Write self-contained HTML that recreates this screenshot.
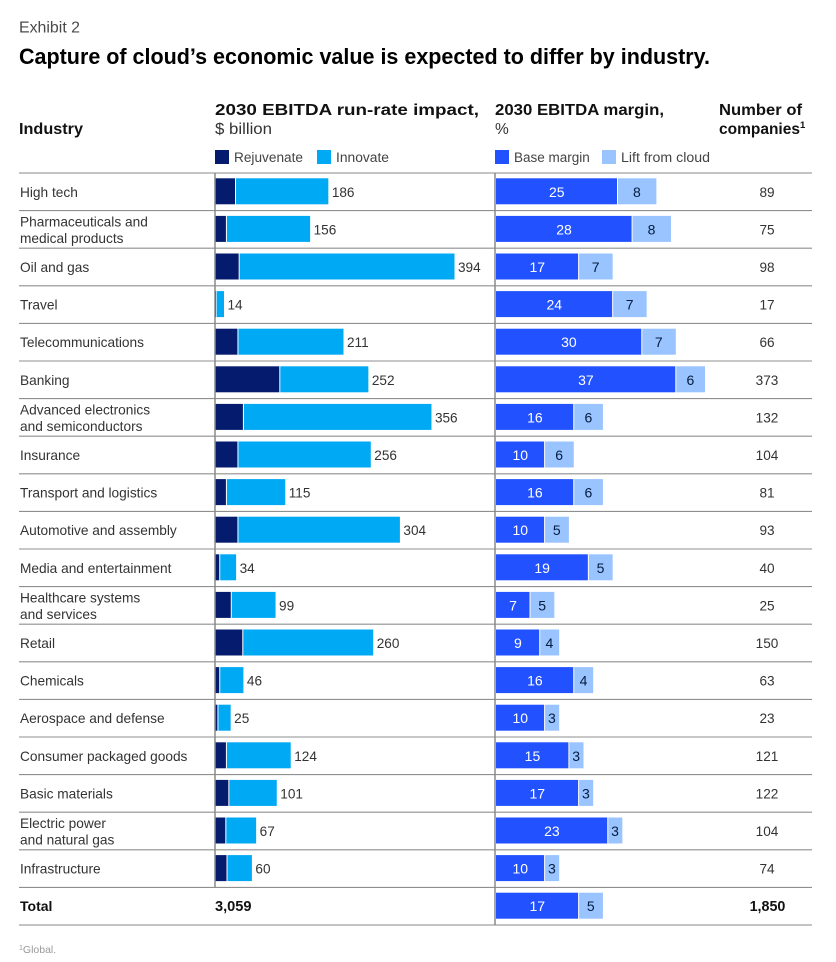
<!DOCTYPE html>
<html lang="en">
<head>
<meta charset="utf-8">
<title>Exhibit 2</title>
<style>
html,body{margin:0;padding:0;background:#fff;width:836px;height:962px;overflow:hidden}
svg{display:block;font-family:"Liberation Sans",sans-serif}
</style>
</head>
<body>
<svg id="chart" width="836" height="962" viewBox="0 0 836 962" xmlns="http://www.w3.org/2000/svg">
  <text x="19" y="32.5" font-size="15.5" fill="#4a4a4a" textLength="61" lengthAdjust="spacingAndGlyphs">Exhibit 2</text>
  <text x="19" y="64" font-size="22" font-weight="bold" fill="#000" textLength="691" lengthAdjust="spacingAndGlyphs">Capture of cloud’s economic value is expected to differ by industry.</text>

  <text x="19" y="134" font-size="15.5" font-weight="bold" fill="#111" textLength="64" lengthAdjust="spacingAndGlyphs">Industry</text>
  <text x="215" y="115" font-size="15.5" font-weight="bold" fill="#111" textLength="264" lengthAdjust="spacingAndGlyphs">2030 EBITDA run-rate impact,</text>
  <text x="215" y="134" font-size="15.5" fill="#333" textLength="57" lengthAdjust="spacingAndGlyphs">$ billion</text>
  <text x="495" y="115" font-size="15.5" font-weight="bold" fill="#111" textLength="169" lengthAdjust="spacingAndGlyphs">2030 EBITDA margin,</text>
  <text x="495" y="134" font-size="15.5" fill="#333">%</text>
  <text x="719" y="115" font-size="15.5" font-weight="bold" fill="#111" textLength="83" lengthAdjust="spacingAndGlyphs">Number of</text>
  <text x="719" y="134" font-size="15.5" font-weight="bold" fill="#111">companies<tspan font-size="9.5" dy="-6">1</tspan></text>

  <rect x="215" y="150" width="14" height="14" fill="#051c6e"/>
  <text x="234" y="162" font-size="13.5" fill="#444" textLength="69" lengthAdjust="spacingAndGlyphs">Rejuvenate</text>
  <rect x="317" y="150" width="14" height="14" fill="#00a9f4"/>
  <text x="336" y="162" font-size="13.5" fill="#444" textLength="53" lengthAdjust="spacingAndGlyphs">Innovate</text>
  <rect x="495" y="150" width="14" height="14" fill="#2251ff"/>
  <text x="514" y="162" font-size="13.5" fill="#444">Base margin</text>
  <rect x="602" y="150" width="14" height="14" fill="#99c4ff"/>
  <text x="621" y="162" font-size="13.5" fill="#444" textLength="89" lengthAdjust="spacingAndGlyphs">Lift from cloud</text>

  <g id="rows"></g>

  <text x="19" y="953" font-size="10.5" fill="#999"><tspan font-size="7" dy="-3">1</tspan><tspan dy="3">Global.</tspan></text>
</svg>
<script>
const categories = ["High tech","Pharmaceuticals and\nmedical products","Oil and gas","Travel","Telecommunications","Banking","Advanced electronics\nand semiconductors","Insurance","Transport and logistics","Automotive and assembly","Media and entertainment","Healthcare systems\nand services","Retail","Chemicals","Aerospace and defense","Consumer packaged goods","Basic materials","Electric power\nand natural gas","Infrastructure"];
const rejuvenate = [33,18,39,1,37,106,46,37,18,37,7,26,45,7,4,18,22,17,19];
const innovate = [153,138,355,13,174,146,310,219,97,267,27,73,215,39,21,106,79,50,41];
const baseMargin = [25,28,17,24,30,37,16,10,16,10,19,7,9,16,10,15,17,23,10];
const liftFromCloud = [8,8,7,7,7,6,6,6,6,5,5,5,4,4,3,3,3,3,3];
const companies = [89,75,98,17,66,373,132,104,81,93,40,25,150,63,23,121,122,104,74];
const totalLabel = ["Total"];
const totalImpact = ["3,059"];
const totalBaseMargin = [17];
const totalLift = [5];
const totalCompanies = ["1,850"];

const NS = "http://www.w3.org/2000/svg";
const root = document.getElementById("rows");
const top0 = 173, rowH = 37.6;
const xImpact = v => 215.5 + v * 0.6066;
const xMargin = v => 496 + v * 4.86;
const rowY = i => top0 + i * rowH;

function add(tag, attrs, text) {
  const el = document.createElementNS(NS, tag);
  for (const k in attrs) el.setAttribute(k, attrs[k]);
  if (text !== undefined) el.textContent = text;
  root.appendChild(el);
  return el;
}
function slug(s) { return s.replace(/\n/g, " ").toLowerCase().replace(/[^a-z0-9]+/g, "-"); }
function segment(name, x0, x1, y, fill) {
  const el = add("rect", {x: x0, y: y + 5.3, width: Math.max(x1 - x0, 0.5), height: 26, fill: fill});
  
  
}
function label(name, x, y, str, anchor, fill, size, weight) {
  const el = add("text", {x: x, y: y, "text-anchor": anchor, fill: fill, "font-size": size, "font-weight": weight}, str);
  
  
}
function marginBars(key, i, base, lift) {
  const y = rowY(i), mid = y + 18.8;
  segment("base-margin-bar-" + key, xMargin(0), xMargin(base) - 0.5, y, "#2251ff");
  segment("lift-bar-" + key, xMargin(base) + 0.5, xMargin(base + lift), y, "#99c4ff");
  label("base-margin-value-" + key, (xMargin(0) + xMargin(base)) / 2, mid + 5, String(base), "middle", "#fff", 14, "normal");
  label("lift-value-" + key, (xMargin(base) + xMargin(base + lift)) / 2, mid + 5, String(lift), "middle", "#051c3f", 14, "normal");
}

for (let i = 0; i <= categories.length + 1; i++) {
  const edge = i === 0 || i === categories.length + 1;
  const line = add("line", {x1: 19, x2: 812, y1: rowY(i), y2: rowY(i), stroke: edge ? "#b0b0b0" : "#8f8f8f", "stroke-width": edge ? 1.6 : 1.1});
  
  
}

categories.forEach((cat, i) => {
  const key = slug(cat), y = rowY(i), mid = y + 18.8;
  const lines = cat.split("\n");
  lines.forEach((t, j) => {
    const ly = lines.length === 1 ? mid + 5 : mid - 3 + j * 16.4;
    label("industry-label-" + key + "-" + (j + 1), 20, ly, t, "start", "#333", 13.7, "normal");
  });
  const r = rejuvenate[i], n = innovate[i], sum = r + n;
  segment("rejuvenate-bar-" + key, xImpact(0), xImpact(r) - 0.5, y, "#051c6e");
  segment("innovate-bar-" + key, xImpact(r) + 0.5, xImpact(sum), y, "#00a9f4");
  label("impact-value-" + key, xImpact(sum) + 3.5, mid + 5, String(sum), "start", "#333", 13.6, "normal");
  marginBars(key, i, baseMargin[i], liftFromCloud[i]);
  label("companies-value-" + key, 767, mid + 5, String(companies[i]), "middle", "#333", 13.6, "normal");
});

const ti = categories.length, tmid = rowY(ti) + 18.8;
label("total-label", 20, tmid + 5, totalLabel[0], "start", "#111", 14, "bold");
label("total-impact-value", 215, tmid + 5, totalImpact[0], "start", "#111", 14.6, "bold");
marginBars("total", ti, totalBaseMargin[0], totalLift[0]);
label("total-companies-value", 767.5, tmid + 5, totalCompanies[0], "middle", "#111", 14.3, "bold");

const axisA = add("line", {x1: 215, x2: 215, y1: rowY(0), y2: rowY(ti), stroke: "#8a8a8a", "stroke-width": 1.5});


const axisB = add("line", {x1: 495, x2: 495, y1: rowY(0), y2: rowY(ti + 1), stroke: "#8a8a8a", "stroke-width": 1.5});


</script>
</body>
</html>
